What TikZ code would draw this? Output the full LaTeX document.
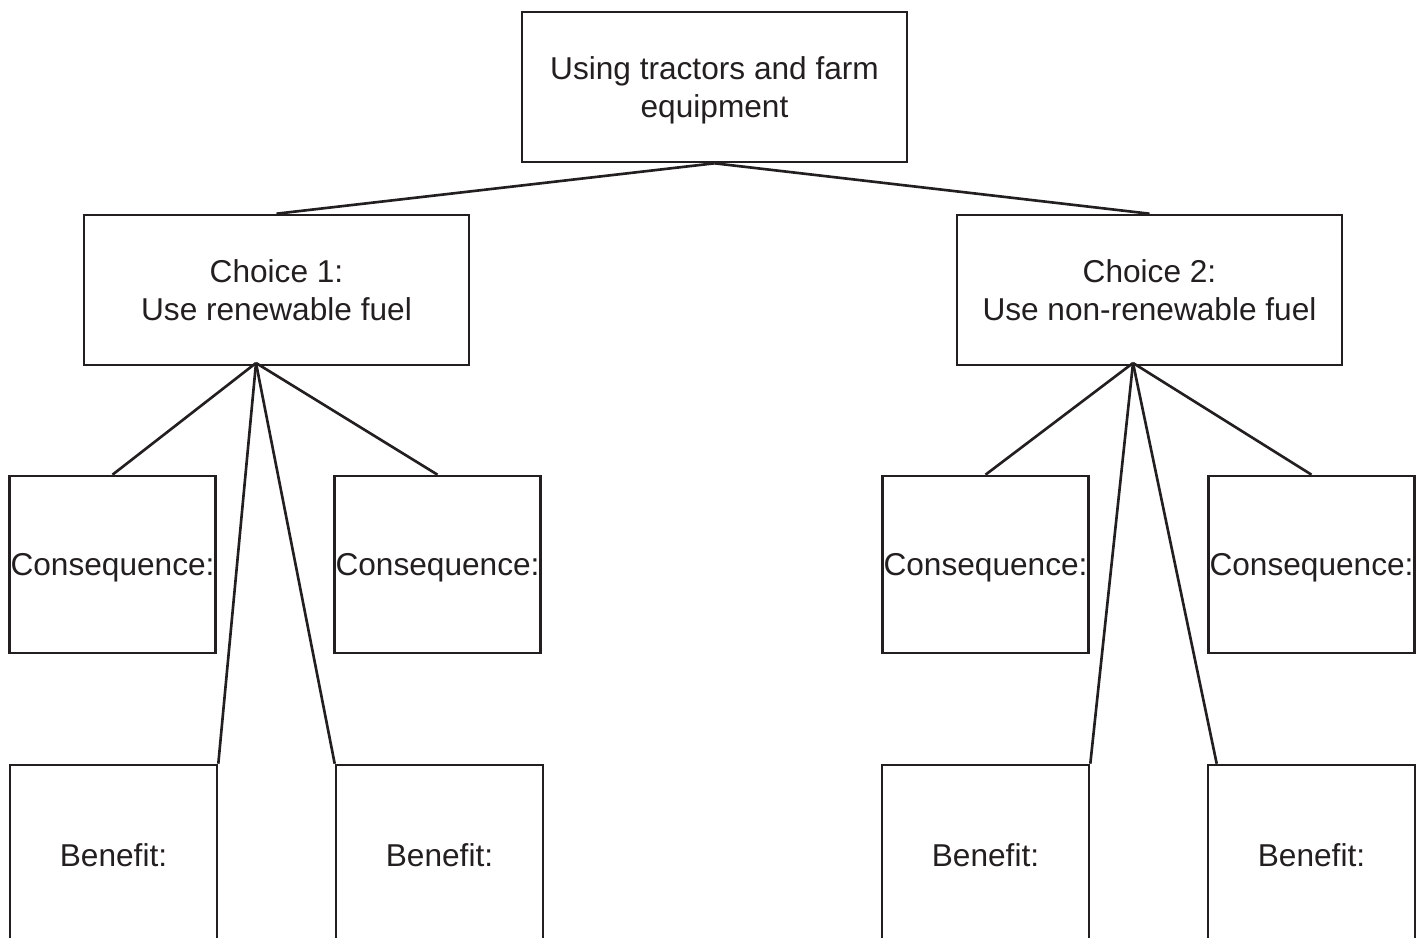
\documentclass[tikz,border=0pt]{standalone}
\usepackage{fontspec}
\setmainfont{Liberation Sans}
\usetikzlibrary{positioning}
\definecolor{inkgray}{RGB}{35,31,32}

\begin{document}
\begin{tikzpicture}[x=0.02cm,y=-0.02cm,line width=1.5pt,
  every node/.style={font=\fontsize{18}{22}\selectfont,text=inkgray},
  box/.style={draw=inkgray,rectangle,inner sep=0pt,align=center,text depth=0pt},
  bigbox/.style={box,minimum width=7.7cm,minimum height=3cm},
  conbox/.style={box,minimum width=4.12cm,minimum height=3.54cm},
  benbox/.style={box,minimum width=4.14cm,minimum height=3.6cm}]

  \useasboundingbox (0,0) rectangle (1422,937);
  \clip (0,0) rectangle (1422,937);

  \node[bigbox]  (top)  at (714.5,87)   {Using tractors and farm\\equipment};
  \node[bigbox]  (ch1)  at (276.5,290)  {Choice 1:\\Use renewable fuel};
  \node[bigbox]  (ch2)  at (1149.5,290) {Choice 2:\\Use non-renewable fuel};
  \node[conbox]  (con1) at (112.5,564.5)  {Consequence:};
  \node[conbox]  (con2) at (437.5,564.5)  {Consequence:};
  \node[conbox]  (con3) at (985.5,564.5)  {Consequence:};
  \node[conbox]  (con4) at (1311.5,564.5) {Consequence:};
  \node[benbox]  (ben1) at (113.5,855)  {Benefit:};
  \node[benbox]  (ben2) at (439.5,855)  {Benefit:};
  \node[benbox]  (ben3) at (985.5,855)  {Benefit:};
  \node[benbox]  (ben4) at (1311.5,855) {Benefit:};

  \coordinate (fork1) at (256,363);
  \coordinate (fork2) at (1133,363);

  \path [draw=inkgray]
        (top.south) edge (ch1.north)
                    edge (ch2.north)
        (fork1) edge (con1.north)
                edge (con2.north)
                edge (ben1.north east)
                edge (ben2.north west)
        (fork2) edge (con3.north)
                edge (con4.north)
                edge (ben3.north east)
                edge ([xshift=0.2cm]ben4.north west);
\end{tikzpicture}
\end{document}
